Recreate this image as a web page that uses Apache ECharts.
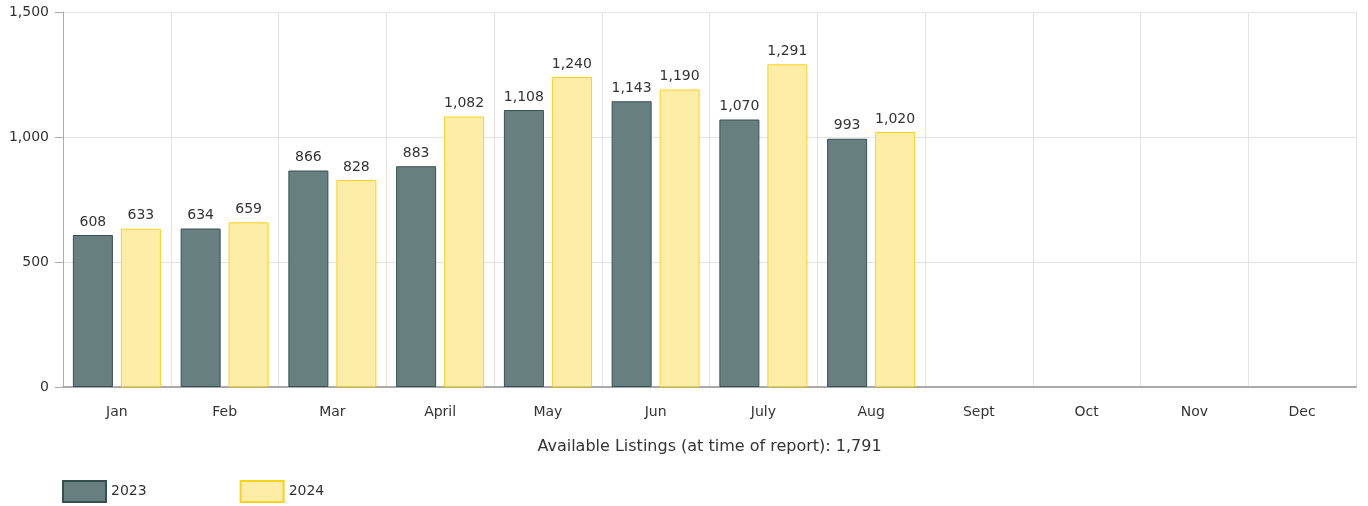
<!DOCTYPE html>
<html><head><meta charset="utf-8">
<script src="https://cdn.jsdelivr.net/npm/echarts@6/dist/echarts.min.js"></script>
<style>html,body{margin:0;padding:0;background:#fff}#c{width:1368px;height:506px}</style>
</head><body><div id="c"></div>
<script>
var months = ['Jan','Feb','Mar','April','May','Jun','July','Aug','Sept','Oct','Nov','Dec'];
var series2023 = [608,634,866,883,1108,1143,1070,993,null,null,null,null];
var series2024 = [633,659,828,1082,1240,1190,1291,1020,null,null,null,null];
var yTicks = [0,500,1000,1500];
var xAxisTitle = 'Available Listings (at time of report): 1,791';

var font = 'DejaVu Sans';
var fmt = function(v){ return v==null? '' : Number(v).toLocaleString('en-US'); };
var chart = echarts.init(document.getElementById('c'), null, {renderer:'canvas'});
chart.setOption({
  animation:false,
  textStyle:{fontFamily:font},
  grid:{left:63,right:12,top:12,bottom:119,containLabel:false},
  legend:{
    left:62, bottom:3, padding:0, itemWidth:43, itemHeight:21, itemGap:93,
    icon:'rect',
    textStyle:{fontFamily:font,fontSize:14,color:'#333'},
    data:['2023','2024']
  },
  xAxis:{
    type:'category', data:months,
    name:xAxisTitle, nameLocation:'middle', nameGap:52,
    nameTextStyle:{fontFamily:font,fontSize:16,color:'#333'},
    axisLine:{lineStyle:{color:'#aaaaaa',width:2}},
    axisTick:{alignWithLabel:true,length:5,lineStyle:{color:'#aaaaaa'}},
    axisLabel:{margin:18,fontFamily:font,fontSize:14,color:'#333'},
    splitLine:{show:true,lineStyle:{color:'#e3e3e3'}}
  },
  yAxis:{
    type:'value', min:0, max:1500, interval:500,
    axisLine:{show:true,lineStyle:{color:'#aaaaaa'}},
    axisTick:{show:true,length:8,lineStyle:{color:'#aaaaaa'}},
    axisLabel:{margin:14,fontFamily:font,fontSize:14,color:'#333',formatter:function(v){return yTicks.indexOf(v)>=0?fmt(v):'';}},
    splitLine:{lineStyle:{color:'#e3e3e3'}}
  },
  series:[
    {name:'2023',type:'bar',data:series2023,barWidth:40,barGap:'20%',
     itemStyle:{color:'#687f80',borderColor:'#34504f',borderWidth:1},
     label:{show:true,position:'top',distance:6,fontFamily:font,fontSize:14,color:'#333',formatter:function(p){return fmt(p.value);}}},
    {name:'2024',type:'bar',data:series2024,barWidth:40,barGap:'20%',
     itemStyle:{color:'#feeda6',borderColor:'#f7d21e',borderWidth:1},
     label:{show:true,position:'top',distance:6,fontFamily:font,fontSize:14,color:'#333',formatter:function(p){return fmt(p.value);}}}
  ]
});
</script></body></html>
